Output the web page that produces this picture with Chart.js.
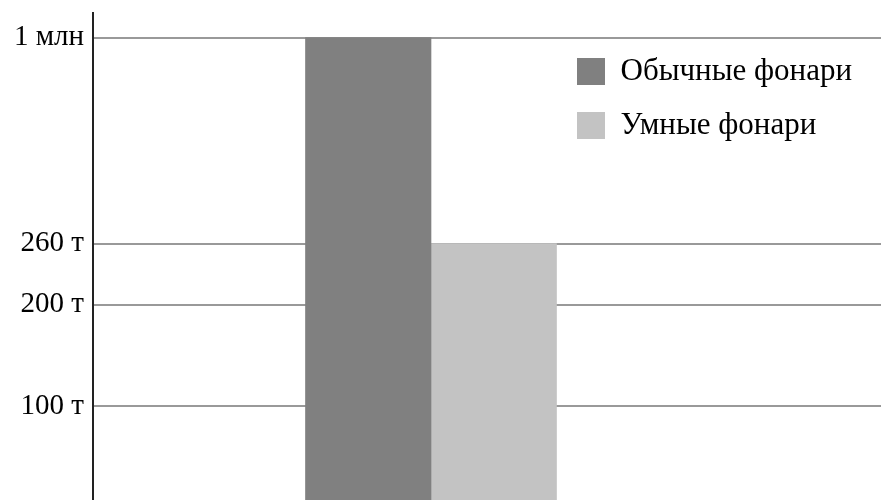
<!DOCTYPE html>
<html>
<head>
<meta charset="utf-8">
<script src="https://cdn.jsdelivr.net/npm/chart.js@4/dist/chart.umd.min.js"></script>
<style>
  html, body { margin: 0; padding: 0; background: #fff; overflow: hidden; }
  #wrap { position: relative; width: 881px; height: 508px; }
</style>
</head>
<body>
<div id="wrap"><canvas id="chart"></canvas></div>
<script>
// data
const seriesNames = ['Обычные фонари', 'Умные фонари'];
const regular = [1000000];
const smart = [260000];
const tickValues = [100000, 200000, 260000, 1000000];
const tickLabels = ['100 т', '200 т', '260 т', '1 млн'];

// the y axis is broken above 260 т: that part is squeezed
const breakAt = 260000;
const squeeze = 0.2738;
const toDisplay = v => v <= breakAt ? v : breakAt + (v - breakAt) * squeeze;
const fromDisplay = d => d <= breakAt ? d : breakAt + (d - breakAt) / squeeze;

class BrokenScale extends Chart.LinearScale {
  static id = 'broken';
  static defaults = Chart.LinearScale.defaults;

  getPixelForValue(value) {
    if (value === null || value === undefined) return NaN;
    const lo = toDisplay(this.min), hi = toDisplay(this.max);
    return this.getPixelForDecimal((toDisplay(value) - lo) / (hi - lo));
  }

  getValueForPixel(pixel) {
    const lo = toDisplay(this.min), hi = toDisplay(this.max);
    return fromDisplay(lo + this.getDecimalForPixel(pixel) * (hi - lo));
  }
}
Chart.register(BrokenScale);

// legend sits inside the plot, top right
const legendSpot = {
  id: 'legendSpot',
  afterLayout(chart) {
    const l = chart.legend;
    l.left = 554;
    l.top = 33;
    l.right = 881;
  }
};

const serif = '"Liberation Serif", "Times New Roman", serif';

new Chart(document.getElementById('chart'), {
  type: 'bar',
  data: {
    datasets: [
      {
        label: seriesNames[0],
        data: regular.map((y, i) => ({ x: i, y })),
        backgroundColor: '#808080',
        borderWidth: 0
      },
      {
        label: seriesNames[1],
        data: smart.map((y, i) => ({ x: i, y })),
        backgroundColor: '#c3c3c3',
        borderWidth: 0
      }
    ]
  },
  options: {
    responsive: true,
    maintainAspectRatio: false,
    animation: false,
    barThickness: 125.5,
    layout: { autoPadding: false, padding: { top: 13, right: 0, bottom: 0, left: 0 } },
    scales: {
      x: {
        type: 'linear',
        display: false,
        offset: false,
        min: -1,
        max: 1.3314,
        grid: { display: false }
      },
      y: {
        type: 'broken',
        min: 0,
        max: 1088000,
        afterBuildTicks: (axis) => {
          axis.ticks = tickValues.map(v => ({ value: v }));
        },
        afterFit: (axis) => {
          axis.width = 93;
          axis.paddingTop = 0;
          axis.paddingBottom = 0;
        },
        border: { display: true, color: '#222', width: 2 },
        grid: { color: '#999', lineWidth: 2, drawTicks: false },
        ticks: {
          autoSkip: false,
          padding: 9,
          color: '#000',
          font: { family: serif, size: 29 },
          callback: (value, i) => tickLabels[i]
        }
      }
    },
    plugins: {
      tooltip: { enabled: false },
      legend: {
        position: 'chartArea',
        align: 'start',
        labels: {
          color: '#000',
          boxWidth: 28,
          boxHeight: 27,
          padding: 23,
          font: { family: serif, size: 31 }
        }
      }
    }
  },
  plugins: [legendSpot]
});
</script>
</body>
</html>
